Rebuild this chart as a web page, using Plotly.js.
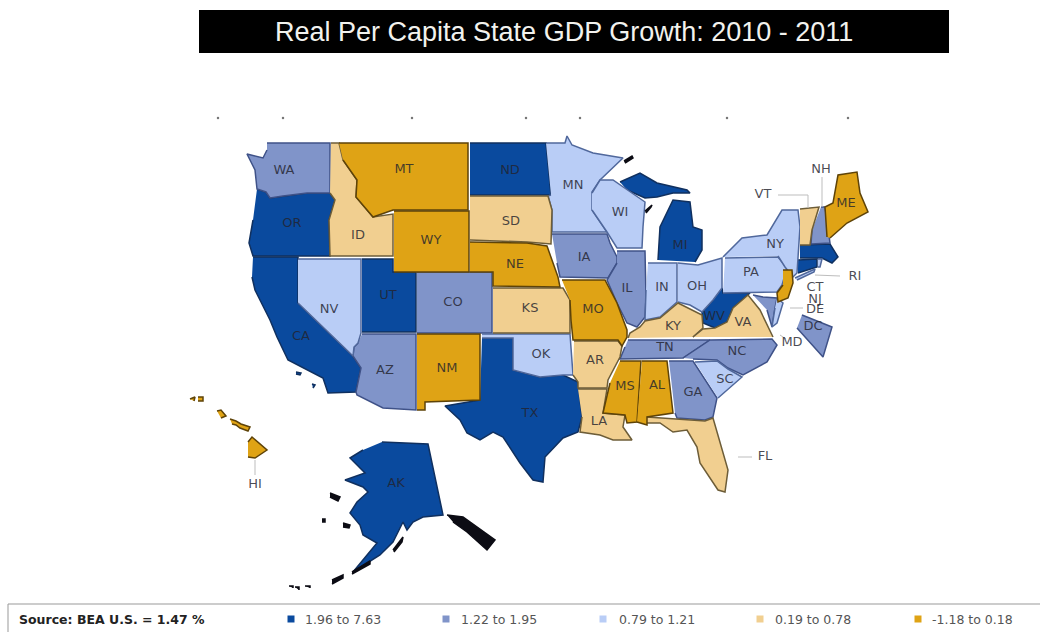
<!DOCTYPE html>
<html><head><meta charset="utf-8"><script src="https://cdn.plot.ly/plotly-3.0.1.min.js"></script>
<style>html,body{margin:0;padding:0;background:#fff;overflow:hidden}#c{width:1040px;height:632px}</style></head><body><div id="c"></div>
<script>
const titleText="Real Per Capita State GDP Growth: 2010 - 2011";
const sourceText="Source: BEA U.S. = 1.47 %";
const binLabels=["1.96 to 7.63","1.22 to 1.95","0.79 to 1.21","0.19 to 0.78","-1.18 to 0.18"];
const binColors=["#0a4a9e","#8094c9","#b9cdf6","#f1cf90","#dfa315"];
const binLines=["#10305f","#3f5288","#50689c","#6d5d38","#5e4308"];
const bin0=["AK","CA","OR","TX","UT","ND","MI","WV","MA","CT"];
const bin1=["WA","AZ","CO","IA","IL","TN","NC","GA","NH","MD","DC"];
const bin2=["NV","MN","WI","OK","IN","OH","PA","NY","SC","RI","DE"];
const bin3=["ID","SD","KS","AR","LA","KY","VA","FL","VT"];
const bin4=["MT","WY","NM","NE","MO","MS","AL","HI","ME","NJ"];
const bins=[bin0,bin1,bin2,bin3,bin4];
// Outlines, in map units.
const outlines={
WA:[267,143,330,143,330,193,307,193,283,196,270,198,266,192,257,189,255,170,247,154,263,158,267,150],
OR:[257,189,266,192,270,198,283,196,307,193,330,193,335,200,329,220,330,256,253,256,249,243,253,220],
ID:[331,143,339,143,343,160,357,180,356,197,373,217,393,214,393,256,330,256,329,220,335,200,330,193],
MT:[339,143,468,143,468,210,393,210,373,217,356,197,357,180,343,160],
WY:[394,211,469,211,469,272,394,272],
NV:[298,259,361,259,361,333,358,343,354,347,353,356,298,303],
CA:[253,257,298,257,298,303,353,356,361,368,356,392,328,393,323,378,288,360,277,337,270,320,255,290,252,277,null,null,296,372,301,373,300,375,296,374,null,null,312,384,315,385,313,388],
UT:[362,259,393,259,393,272,416,272,416,332,362,332],
CO:[417,272,492,272,492,333,417,333],
AZ:[362,334,416,334,416,410,383,408,357,395,356,392,361,368,353,356,354,347,358,343],
NM:[417,334,480,334,480,400,425,402,425,410,417,410],
TX:[482,338,513,338,513,370,540,377,563,375,578,382,582,417,578,432,563,438,545,457,543,482,533,480,520,463,503,437,493,432,480,440,467,433,460,420,445,406,480,400],
OK:[482,334,570,334,573,375,563,375,540,377,513,370,513,338,482,338],
KS:[493,288,563,288,570,300,570,333,493,333],
NE:[470,242,527,243,547,246,558,277,560,287,493,286,493,272,470,272],
SD:[470,196,548,196,552,210,551,244,527,242,470,240],
ND:[470,143,546,143,551,195,470,195],
MN:[546,143,565,143,567,136,572,145,593,153,623,158,600,180,592,192,592,210,607,232,552,232,552,210,548,196,551,195],
IA:[552,234,607,234,610,243,617,257,617,263,608,278,560,277,557,263],
MO:[562,280,605,280,617,303,627,330,627,337,622,346,618,340,573,340,571,320,570,300],
AR:[574,341,618,341,622,346,620,357,608,380,607,388,578,388,578,382,573,375],
LA:[578,389,607,389,603,413,625,415,623,427,632,440,613,440,600,435,580,432,582,417],
MS:[620,361,641,361,637,422,627,423,625,415,603,413,610,383],
AL:[642,361,667,361,673,413,647,417,647,425,637,422],
GA:[669,361,693,361,717,398,713,417,705,420,677,418,675,413],
FL:[647,417,677,419,705,421,713,418,728,470,725,492,718,490,700,463,697,447,687,430,673,432,660,423,647,423],
SC:[695,362,717,361,728,369,742,377,718,398],
NC:[683,358,710,340,772,339,777,345,767,362,743,375,728,368,717,360,693,359],
TN:[628,340,710,340,683,358,620,359,625,347],
KY:[628,338,630,333,640,327,645,321,660,318,678,303,702,315,703,328,693,337],
VA:[693,337,703,329,715,328,727,322,733,308,748,295,760,310,768,327,773,337],
WV:[722,288,723,293,750,293,733,308,727,322,715,328,703,323,702,312,713,300],
OH:[678,263,698,265,722,258,722,288,713,300,702,312,690,305,678,302],
IN:[648,263,677,263,677,302,660,317,645,320,646,290],
IL:[617,251,645,251,646,297,645,317,637,327,627,323,617,303,607,280,617,263],
WI:[592,193,600,180,613,180,627,190,645,202,643,227,642,248,617,248,607,232,592,210],
MI:[658,260,660,227,673,200,690,202,693,227,702,230,702,250,695,262,null,null,620,182,640,173,657,183,687,190,690,193,673,193,657,197,645,198,627,190],
PA:[725,258,778,257,787,268,782,285,777,292,723,293],
NY:[723,257,742,238,767,235,782,210,798,210,800,227,797,273,793,277,785,267,778,256,null,null,795,278,815,269,814,272,797,280],
VT:[800,209,819,207,812,230,810,245,800,245],
NH:[821,207,825,207,830,243,811,244,812,230],
ME:[827,237,825,207,833,203,838,175,857,172,860,193,868,212,847,223,830,238],
MA:[800,245,830,244,838,257,832,263,822,258,800,258],
CT:[798,260,817,259,817,267,798,273],
RI:[818,259,822,259,820,267,818,267],
NJ:[783,270,792,270,793,283,788,298,778,302,777,293,783,285],
MD:[753,295,763,297,777,298,775,308,772,327,767,310],
DE:[777,298,783,303,777,323,772,327,775,308],
DC:[802,315,832,327,823,357,797,328],
HI:[248,442,252,437,267,450,255,458,248,457,null,null,190,399,195,397,194,401,null,null,198,397,203,397,203,401,198,401,null,null,217,411,221,410,226,416,221,418,null,null,230,419,236,421,241,424,250,427,248,431,240,428,236,425,232,424],
AK:[382,442,428,444,443,515,423,517,413,522,407,530,403,522,393,542,380,555,353,572,377,543,363,535,360,525,350,513,357,502,368,492,363,487,345,480,365,473,350,458,363,450]
};
const darkIslands={
x:[447,463,495,487,467,453,null,332,343,343,332,null,352,370,370,352,null,393,403,402,394,null,330,340,338,330,null,343,350,349,343,null,322,325,325,322,null,289,293,293,null,295,299,299,null,305,310,310,null,624,632,633,625,null,645,652,651,646],
y:[515,517,540,550,532,522,null,580,575,578,584,null,572,561,564,574,null,550,537,542,552,null,493,497,501,497,null,523,525,528,527,null,519,519,522,522,null,586,586,588,null,587,587,590,null,586,586,588,null,161,156,158,163,null,211,205,207,213]
};
const labelNames=["WA","MT","ND","MN","WI","ME","NH","VT","NY","MI","OR","ID","WY","SD","IA","NE","IL","IN","OH","PA","NV","UT","CO","KS","MO","KY","VA","WV","CA","AZ","NM","OK","AR","TN","NC","SC","MS","AL","GA","LA","TX","FL","HI","AK","RI","CT","NJ","DE","DC","MD"];
const labelX=[284,404,510,573,620,846,821,763,775,680,292,358,431,511,584,515,627,662,697,751,329,388,453,530,593,673,743,714,301,385,447,541,595,665,737,725,625,657,693,599,530,765,255,396,855,815,815,815,813,792];
const labelY=[171,170,171,186,213,204,170,195,245,246,224,236,241,222,258,265,289,288,287,273,310,296,303,309,310,327,323,317,337,371,369,355,361,348,352,380,387,386,393,422,414,457,485,484,277,288,300,310,327,343];
const leaderX=[778,808,808,null,822,822,null,815,840,null,738,752,null,255,255,null,790,803,null,780,786];
const leaderY=[195,195,208,null,177,207,null,275,276,null,457,457,null,460,475,null,308,308,null,335,339];
const topDotsX=[218,283,412,526,580,727,848];
const topDotsY=[118,118,118,118,118,118,118];
const swatchX=[291,446,603,760,918];
const legendTextX=[303,459,617,773,930];

const xs=a=>a.filter((_,i)=>i%2===0), ys=a=>a.filter((_,i)=>i%2===1);
const traces=[];
bins.forEach((list,b)=>list.forEach(st=>{
  traces.push({type:'scatter',mode:'lines',name:st,x:xs(outlines[st]),y:ys(outlines[st]),fill:'toself',fillcolor:binColors[b],line:{color:binLines[b],width:1.5},hoverinfo:'name'});
}));
traces.push({type:'scatter',mode:'lines',x:darkIslands.x,y:darkIslands.y,fill:'toself',fillcolor:'#0c0c14',line:{color:'#0c0c14',width:1.5},hoverinfo:'skip'});
traces.push({type:'scatter',mode:'lines',x:leaderX,y:leaderY,line:{color:'#bdbdbd',width:1},hoverinfo:'skip'});
traces.push({type:'scatter',mode:'markers',x:topDotsX,y:topDotsY,marker:{size:2.5,color:'#777'},hoverinfo:'skip'});
traces.push({type:'scatter',mode:'text',x:labelX,y:labelY,text:labelNames,textposition:'middle center',textfont:{family:'DejaVu Sans',size:13,color:'rgba(35,35,45,.82)'},hoverinfo:'skip'});
traces.push({type:'scatter',mode:'markers',x:swatchX,y:swatchX.map(()=>619),marker:{symbol:'square',size:7,color:binColors},hoverinfo:'skip'});

const annotations=[
 {xref:'x',yref:'y',x:564,y:32,text:titleText,showarrow:false,font:{family:'Liberation Sans',size:27,color:'#f2f2ee'}},
 {xref:'x',yref:'y',x:17,y:619,xanchor:'left',text:'<b>'+sourceText+'</b>',showarrow:false,font:{family:'DejaVu Sans',size:12.5,color:'#222'}}
];
binLabels.forEach((t,i)=>annotations.push({xref:'x',yref:'y',x:legendTextX[i],y:619,xanchor:'left',text:t,showarrow:false,font:{family:'DejaVu Sans',size:12.5,color:'#555'}}));
const shapes=[
 {type:'rect',layer:'below',xref:'x',yref:'y',x0:199,x1:949,y0:10,y1:53,fillcolor:'#000',line:{width:0}},
 {type:'rect',layer:'below',xref:'x',yref:'y',x0:8,x1:1045,y0:604,y1:640,fillcolor:'#fff',line:{color:'#999',width:1}}
];
Plotly.newPlot('c',traces,{width:1040,height:632,showlegend:false,margin:{l:0,r:0,t:0,b:0},paper_bgcolor:'#fff',plot_bgcolor:'#fff',
 xaxis:{range:[0,1040],visible:false,fixedrange:true},yaxis:{range:[632,0],visible:false,fixedrange:true},annotations,shapes},{displayModeBar:false,staticPlot:false});
</script></body></html>
